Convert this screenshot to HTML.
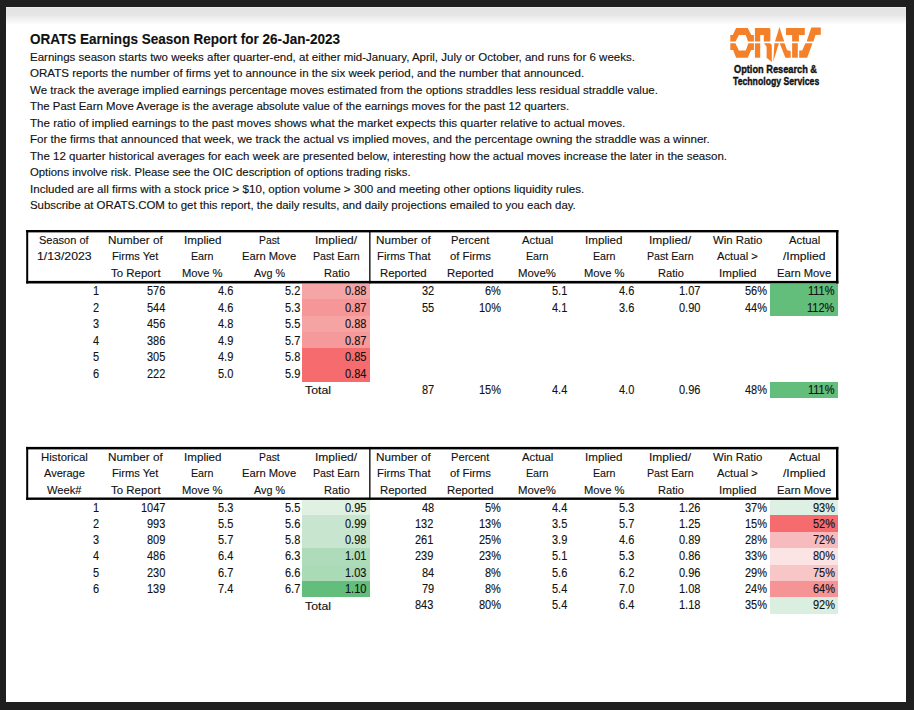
<!DOCTYPE html>
<html><head><meta charset="utf-8"><style>
html,body{margin:0;padding:0}
body{width:914px;height:710px;overflow:hidden;background:#1f1f1f;position:relative;font-family:"Liberation Sans", sans-serif}
.page{position:absolute;left:6px;top:7px;width:900px;height:695px;background:#fff}
.shade{position:absolute;left:6px;top:7px;width:900px;height:18px;background:linear-gradient(#f6f6f6,#e3e3e3 1px,#e6e6e6 8px,#f3f3f3 13px,#fff 18px)}
.t{position:absolute;white-space:pre;line-height:0;color:#111;transform-origin:0 0;-webkit-text-stroke:0.12px #111}
.f{position:absolute}
.box{position:absolute;box-sizing:border-box;border:2.6px solid #000}
.vl{position:absolute;width:1.4px;background:#000}
</style></head><body>
<div class=page></div><div class=shade></div>
<svg width="914" height="710" style="position:absolute;left:0;top:0">
<g shape-rendering="crispEdges"><rect x='302.3' y='283.8' width='67.70' height='15.00' fill='#F5A5A6'/><rect x='302.3' y='298.8' width='67.70' height='16.90' fill='#F59699'/><rect x='302.3' y='315.7' width='67.70' height='16.00' fill='#F6A3A4'/><rect x='302.3' y='331.7' width='67.70' height='16.05' fill='#F5999A'/><rect x='302.3' y='347.75' width='67.70' height='16.95' fill='#F66B6E'/><rect x='302.3' y='364.7' width='67.70' height='17.00' fill='#F66B6E'/><rect x='770.3' y='283.8' width='67.90' height='31.90' fill='#63BE7B'/><rect x='770.3' y='381.7' width='67.90' height='16.35' fill='#63BE7B'/><rect x='302.3' y='500.1' width='67.70' height='14.80' fill='#E0F1E4'/><rect x='302.3' y='514.9' width='67.70' height='16.90' fill='#C8E6CF'/><rect x='302.3' y='531.8' width='67.70' height='16.00' fill='#C8E6CF'/><rect x='302.3' y='547.8' width='67.70' height='16.90' fill='#AEDBB9'/><rect x='302.3' y='564.7' width='67.70' height='16.30' fill='#ABDAB6'/><rect x='302.3' y='581.0' width='67.70' height='16.30' fill='#63BE7B'/><rect x='770.3' y='500.1' width='67.90' height='14.80' fill='#DEF0E3'/><rect x='770.3' y='514.9' width='67.90' height='16.90' fill='#F66B6E'/><rect x='770.3' y='531.8' width='67.90' height='16.00' fill='#F8BBBD'/><rect x='770.3' y='547.8' width='67.90' height='16.90' fill='#FCE3E4'/><rect x='770.3' y='564.7' width='67.90' height='16.30' fill='#F9C6C8'/><rect x='770.3' y='581.0' width='67.90' height='16.30' fill='#F69395'/><rect x='770.3' y='597.3' width='67.90' height='16.45' fill='#DAEFE0'/></g>
<rect x='26.2' y='230.0' width='812.2' height='2.4'/><rect x='26.2' y='280.9' width='812.2' height='2.6'/><rect x='26.2' y='230.0' width='2.0' height='53.5'/><rect x='836.0' y='230.0' width='2.4' height='53.5'/><rect x='369.2' y='230.0' width='1.3' height='53.5'/><rect x='26.2' y='446.9' width='812.2' height='2.5'/><rect x='26.2' y='497.5' width='812.2' height='2.4'/><rect x='26.2' y='446.9' width='2.0' height='53.0'/><rect x='836.0' y='446.9' width='2.4' height='53.0'/><rect x='369.2' y='446.9' width='1.3' height='53.0'/>
</svg>
<svg width="110" height="45" viewBox="720 20 110 45" style="position:absolute;left:720px;top:20px">
<g fill="#F5802A">
<path d="M736.1,28.1 L747.8,28.1 L751.3,34.9 L753.9,34.9 L753.9,41.5 L748,41.5 L745.8,34.9 L738.9,34.9 L735.6,41.5 L730.3,41.5 L730.3,34.9 L732.8,34.9 Z"/>
<path d="M730.3,43.3 L735.4,43.3 L738.9,50.4 L745.8,50.4 L748.3,43.3 L753.9,43.3 L753.9,49.9 L751.1,49.9 L747.8,57.7 L736.1,57.7 L733.1,49.9 L730.3,49.9 Z"/>
<path d="M754.9,28.1 L768.9,28.1 Q770.4,28.1 770.4,29.6 L770.4,40 Q770.4,41.5 768.9,41.5 L763.8,41.5 L763.8,34.9 L760.2,34.9 L760.2,41.5 L754.9,41.5 Z"/>
<path d="M754.9,43.3 L760.2,43.3 L760.2,57.7 L754.9,57.7 Z"/>
<path d="M764,43.25 L770.1,43.25 Q771.8,44 771.8,45.9 L771.8,61.9 L766.6,57.7 L766.6,46.75 Z"/>
<path d="M779.45,26.95 L784.2,41.4 L775,41.4 Z"/>
<path d="M774.4,43.2 L778.9,43.2 L773.25,61.8 Z"/>
<path d="M779.7,43.2 L784.5,43.2 L787.1,50.3 L790.7,50.9 L790.7,57.7 L785.4,57.7 Z"/>
<path d="M786,28.1 L804.8,28.1 L804.8,34.9 L798.9,34.9 L798.9,41.4 L792.1,41.4 L792.1,34.9 L786,34.9 Z"/>
<path d="M792.1,43.2 L797.8,43.2 L797.8,57.7 L792.1,57.7 Z"/>
<path d="M811.3,27.6 L820.8,27.6 L820.8,34.8 L815.5,34.9 L813.4,41.4 L806.6,41.4 Z"/>
<path d="M805.4,43.2 L812.5,43.2 L807.2,57.7 L799.2,57.7 L799.2,50.6 L802.2,50.6 Z"/>
</g></svg>
<div class=t style='left:29.60px;top:39.08px;font-size:14.2px;font-weight:bold;transform:scaleX(0.9528)'>ORATS Earnings Season Report for 26-Jan-2023</div>
<div class=t style='left:29.80px;top:57.67px;font-size:10.2px;transform:scaleX(1.1284)'>Earnings season starts two weeks after quarter-end, at either mid-January, April, July or October, and runs for 6 weeks.</div>
<div class=t style='left:29.80px;top:74.17px;font-size:10.2px;transform:scaleX(1.1344)'>ORATS reports the number of firms yet to announce in the six week period, and the number that announced.</div>
<div class=t style='left:29.80px;top:90.67px;font-size:10.2px;transform:scaleX(1.1295)'>We track the average implied earnings percentage moves estimated from the options straddles less residual straddle value.</div>
<div class=t style='left:29.80px;top:107.17px;font-size:10.2px;transform:scaleX(1.1179)'>The Past Earn Move Average is the average absolute value of the earnings moves for the past 12 quarters.</div>
<div class=t style='left:29.80px;top:123.67px;font-size:10.2px;transform:scaleX(1.1376)'>The ratio of implied earnings to the past moves shows what the market expects this quarter relative to actual moves.</div>
<div class=t style='left:29.80px;top:140.17px;font-size:10.2px;transform:scaleX(1.1379)'>For the firms that announced that week, we track the actual vs implied moves, and the percentage owning the straddle was a winner.</div>
<div class=t style='left:29.80px;top:156.67px;font-size:10.2px;transform:scaleX(1.1302)'>The 12 quarter historical averages for each week are presented below, interesting how the actual moves increase the later in the season.</div>
<div class=t style='left:29.80px;top:173.17px;font-size:10.2px;transform:scaleX(1.1128)'>Options involve risk. Please see the OIC description of options trading risks.</div>
<div class=t style='left:29.80px;top:189.67px;font-size:10.2px;transform:scaleX(1.1393)'>Included are all firms with a stock price &gt; $10, option volume &gt; 300 and meeting other options liquidity rules.</div>
<div class=t style='left:29.80px;top:206.17px;font-size:10.2px;transform:scaleX(1.1203)'>Subscribe at ORATS.COM to get this report, the daily results, and daily projections emailed to you each day.</div>
<div class=t style='left:733.80px;top:69.08px;font-size:11.6px;font-weight:bold;-webkit-text-stroke:0.4px #111;transform:scaleX(0.7952)'>Option Research &amp;</div>
<div class=t style='left:732.70px;top:81.18px;font-size:11.6px;font-weight:bold;-webkit-text-stroke:0.4px #111;transform:scaleX(0.7488)'>Technology Services</div>
<div class=t style='left:39.20px;top:239.98px;font-size:11.3px;transform:scaleX(0.9749)'>Season of</div>
<div class=t style='left:36.65px;top:255.98px;font-size:11.3px;transform:scaleX(1.0882)'>1/13/2023</div>
<div class=t style='left:108.15px;top:239.98px;font-size:11.3px;transform:scaleX(1.0370)'>Number of</div>
<div class=t style='left:112.30px;top:255.98px;font-size:11.3px;transform:scaleX(0.9853)'>Firms Yet</div>
<div class=t style='left:110.70px;top:273.48px;font-size:11.3px;transform:scaleX(1.0126)'>To Report</div>
<div class=t style='left:183.75px;top:239.98px;font-size:11.3px;transform:scaleX(1.0296)'>Implied</div>
<div class=t style='left:191.25px;top:255.98px;font-size:11.3px;transform:scaleX(0.9424)'>Earn</div>
<div class=t style='left:182.25px;top:273.48px;font-size:11.3px;transform:scaleX(0.9923)'>Move %</div>
<div class=t style='left:259.15px;top:239.98px;font-size:11.3px;transform:scaleX(0.9155)'>Past</div>
<div class=t style='left:242.40px;top:255.98px;font-size:11.3px;transform:scaleX(0.9919)'>Earn Move</div>
<div class=t style='left:254.00px;top:273.48px;font-size:11.3px;transform:scaleX(0.9552)'>Avg %</div>
<div class=t style='left:315.45px;top:239.98px;font-size:11.3px;transform:scaleX(1.0641)'>Implied/</div>
<div class=t style='left:313.15px;top:255.98px;font-size:11.3px;transform:scaleX(0.9414)'>Past Earn</div>
<div class=t style='left:323.60px;top:273.48px;font-size:11.3px;transform:scaleX(0.9782)'>Ratio</div>
<div class=t style='left:376.15px;top:239.98px;font-size:11.3px;transform:scaleX(1.0370)'>Number of</div>
<div class=t style='left:376.70px;top:255.98px;font-size:11.3px;transform:scaleX(0.9966)'>Firms That</div>
<div class=t style='left:380.15px;top:273.48px;font-size:11.3px;transform:scaleX(1.0046)'>Reported</div>
<div class=t style='left:451.30px;top:239.98px;font-size:11.3px;transform:scaleX(0.9862)'>Percent</div>
<div class=t style='left:450.05px;top:255.98px;font-size:11.3px;transform:scaleX(1.0025)'>of Firms</div>
<div class=t style='left:447.15px;top:273.48px;font-size:11.3px;transform:scaleX(1.0046)'>Reported</div>
<div class=t style='left:521.60px;top:239.98px;font-size:11.3px;transform:scaleX(0.9966)'>Actual</div>
<div class=t style='left:526.00px;top:255.98px;font-size:11.3px;transform:scaleX(0.9424)'>Earn</div>
<div class=t style='left:518.30px;top:273.48px;font-size:11.3px;transform:scaleX(1.0061)'>Move%</div>
<div class=t style='left:585.00px;top:239.98px;font-size:11.3px;transform:scaleX(1.0296)'>Implied</div>
<div class=t style='left:592.50px;top:255.98px;font-size:11.3px;transform:scaleX(0.9424)'>Earn</div>
<div class=t style='left:583.50px;top:273.48px;font-size:11.3px;transform:scaleX(0.9923)'>Move %</div>
<div class=t style='left:649.45px;top:239.98px;font-size:11.3px;transform:scaleX(1.0641)'>Implied/</div>
<div class=t style='left:647.15px;top:255.98px;font-size:11.3px;transform:scaleX(0.9414)'>Past Earn</div>
<div class=t style='left:657.60px;top:273.48px;font-size:11.3px;transform:scaleX(0.9782)'>Ratio</div>
<div class=t style='left:712.55px;top:239.98px;font-size:11.3px;transform:scaleX(1.0088)'>Win Ratio</div>
<div class=t style='left:716.80px;top:255.98px;font-size:11.3px;transform:scaleX(0.9942)'>Actual &gt;</div>
<div class=t style='left:718.50px;top:273.48px;font-size:11.3px;transform:scaleX(1.0296)'>Implied</div>
<div class=t style='left:788.60px;top:239.98px;font-size:11.3px;transform:scaleX(0.9966)'>Actual</div>
<div class=t style='left:783.00px;top:255.98px;font-size:11.3px;transform:scaleX(1.0742)'>/Implied</div>
<div class=t style='left:777.15px;top:273.48px;font-size:11.3px;transform:scaleX(0.9919)'>Earn Move</div>
<div class=t style='left:92.67px;top:291.04px;font-size:12px;transform:scaleX(0.9167)'>1</div>
<div class=t style='left:147.44px;top:291.04px;font-size:12px;transform:scaleX(0.9167)'>576</div>
<div class=t style='left:217.50px;top:291.04px;font-size:12px;transform:scaleX(0.9167)'>4.6</div>
<div class=t style='left:284.50px;top:291.04px;font-size:12px;transform:scaleX(0.9167)'>5.2</div>
<div class=t style='left:345.39px;top:291.04px;font-size:12px;transform:scaleX(0.9167)'>0.88</div>
<div class=t style='left:421.55px;top:291.04px;font-size:12px;transform:scaleX(0.9167)'>32</div>
<div class=t style='left:484.90px;top:291.04px;font-size:12px;transform:scaleX(0.9167)'>6%</div>
<div class=t style='left:552.00px;top:291.04px;font-size:12px;transform:scaleX(0.9167)'>5.1</div>
<div class=t style='left:618.50px;top:291.04px;font-size:12px;transform:scaleX(0.9167)'>4.6</div>
<div class=t style='left:679.39px;top:291.04px;font-size:12px;transform:scaleX(0.9167)'>1.07</div>
<div class=t style='left:745.27px;top:291.04px;font-size:12px;transform:scaleX(0.9167)'>56%</div>
<div class=t style='left:808.29px;top:291.04px;font-size:12px;transform:scaleX(0.9167)'>111%</div>
<div class=t style='left:92.67px;top:307.54px;font-size:12px;transform:scaleX(0.9167)'>2</div>
<div class=t style='left:147.44px;top:307.54px;font-size:12px;transform:scaleX(0.9167)'>544</div>
<div class=t style='left:217.50px;top:307.54px;font-size:12px;transform:scaleX(0.9167)'>4.6</div>
<div class=t style='left:284.50px;top:307.54px;font-size:12px;transform:scaleX(0.9167)'>5.3</div>
<div class=t style='left:345.39px;top:307.54px;font-size:12px;transform:scaleX(0.9167)'>0.87</div>
<div class=t style='left:421.55px;top:307.54px;font-size:12px;transform:scaleX(0.9167)'>55</div>
<div class=t style='left:478.77px;top:307.54px;font-size:12px;transform:scaleX(0.9167)'>10%</div>
<div class=t style='left:552.00px;top:307.54px;font-size:12px;transform:scaleX(0.9167)'>4.1</div>
<div class=t style='left:618.50px;top:307.54px;font-size:12px;transform:scaleX(0.9167)'>3.6</div>
<div class=t style='left:679.39px;top:307.54px;font-size:12px;transform:scaleX(0.9167)'>0.90</div>
<div class=t style='left:745.27px;top:307.54px;font-size:12px;transform:scaleX(0.9167)'>44%</div>
<div class=t style='left:807.47px;top:307.54px;font-size:12px;transform:scaleX(0.9167)'>112%</div>
<div class=t style='left:92.67px;top:324.04px;font-size:12px;transform:scaleX(0.9167)'>3</div>
<div class=t style='left:147.44px;top:324.04px;font-size:12px;transform:scaleX(0.9167)'>456</div>
<div class=t style='left:217.50px;top:324.04px;font-size:12px;transform:scaleX(0.9167)'>4.8</div>
<div class=t style='left:284.50px;top:324.04px;font-size:12px;transform:scaleX(0.9167)'>5.5</div>
<div class=t style='left:345.39px;top:324.04px;font-size:12px;transform:scaleX(0.9167)'>0.88</div>
<div class=t style='left:92.67px;top:340.54px;font-size:12px;transform:scaleX(0.9167)'>4</div>
<div class=t style='left:147.44px;top:340.54px;font-size:12px;transform:scaleX(0.9167)'>386</div>
<div class=t style='left:217.50px;top:340.54px;font-size:12px;transform:scaleX(0.9167)'>4.9</div>
<div class=t style='left:284.50px;top:340.54px;font-size:12px;transform:scaleX(0.9167)'>5.7</div>
<div class=t style='left:345.39px;top:340.54px;font-size:12px;transform:scaleX(0.9167)'>0.87</div>
<div class=t style='left:92.67px;top:357.04px;font-size:12px;transform:scaleX(0.9167)'>5</div>
<div class=t style='left:147.44px;top:357.04px;font-size:12px;transform:scaleX(0.9167)'>305</div>
<div class=t style='left:217.50px;top:357.04px;font-size:12px;transform:scaleX(0.9167)'>4.9</div>
<div class=t style='left:284.50px;top:357.04px;font-size:12px;transform:scaleX(0.9167)'>5.8</div>
<div class=t style='left:345.39px;top:357.04px;font-size:12px;transform:scaleX(0.9167)'>0.85</div>
<div class=t style='left:92.67px;top:373.54px;font-size:12px;transform:scaleX(0.9167)'>6</div>
<div class=t style='left:147.44px;top:373.54px;font-size:12px;transform:scaleX(0.9167)'>222</div>
<div class=t style='left:217.50px;top:373.54px;font-size:12px;transform:scaleX(0.9167)'>5.0</div>
<div class=t style='left:284.50px;top:373.54px;font-size:12px;transform:scaleX(0.9167)'>5.9</div>
<div class=t style='left:345.39px;top:373.54px;font-size:12px;transform:scaleX(0.9167)'>0.84</div>
<div class=t style='left:305.00px;top:390.28px;font-size:11.3px;transform:scaleX(1.0890)'>Total</div>
<div class=t style='left:421.55px;top:390.04px;font-size:12px;transform:scaleX(0.9167)'>87</div>
<div class=t style='left:478.77px;top:390.04px;font-size:12px;transform:scaleX(0.9167)'>15%</div>
<div class=t style='left:552.00px;top:390.04px;font-size:12px;transform:scaleX(0.9167)'>4.4</div>
<div class=t style='left:618.50px;top:390.04px;font-size:12px;transform:scaleX(0.9167)'>4.0</div>
<div class=t style='left:679.39px;top:390.04px;font-size:12px;transform:scaleX(0.9167)'>0.96</div>
<div class=t style='left:745.27px;top:390.04px;font-size:12px;transform:scaleX(0.9167)'>48%</div>
<div class=t style='left:808.29px;top:390.04px;font-size:12px;transform:scaleX(0.9167)'>111%</div>
<div class=t style='left:40.55px;top:456.88px;font-size:11.3px;transform:scaleX(1.0096)'>Historical</div>
<div class=t style='left:43.55px;top:473.28px;font-size:11.3px;transform:scaleX(0.9767)'>Average</div>
<div class=t style='left:46.75px;top:489.68px;font-size:11.3px;transform:scaleX(0.9866)'>Week#</div>
<div class=t style='left:108.15px;top:456.88px;font-size:11.3px;transform:scaleX(1.0370)'>Number of</div>
<div class=t style='left:112.30px;top:473.28px;font-size:11.3px;transform:scaleX(0.9853)'>Firms Yet</div>
<div class=t style='left:110.70px;top:489.68px;font-size:11.3px;transform:scaleX(1.0126)'>To Report</div>
<div class=t style='left:183.75px;top:456.88px;font-size:11.3px;transform:scaleX(1.0296)'>Implied</div>
<div class=t style='left:191.25px;top:473.28px;font-size:11.3px;transform:scaleX(0.9424)'>Earn</div>
<div class=t style='left:182.25px;top:489.68px;font-size:11.3px;transform:scaleX(0.9923)'>Move %</div>
<div class=t style='left:259.15px;top:456.88px;font-size:11.3px;transform:scaleX(0.9155)'>Past</div>
<div class=t style='left:242.40px;top:473.28px;font-size:11.3px;transform:scaleX(0.9919)'>Earn Move</div>
<div class=t style='left:254.00px;top:489.68px;font-size:11.3px;transform:scaleX(0.9552)'>Avg %</div>
<div class=t style='left:315.45px;top:456.88px;font-size:11.3px;transform:scaleX(1.0641)'>Implied/</div>
<div class=t style='left:313.15px;top:473.28px;font-size:11.3px;transform:scaleX(0.9414)'>Past Earn</div>
<div class=t style='left:323.60px;top:489.68px;font-size:11.3px;transform:scaleX(0.9782)'>Ratio</div>
<div class=t style='left:376.15px;top:456.88px;font-size:11.3px;transform:scaleX(1.0370)'>Number of</div>
<div class=t style='left:376.70px;top:473.28px;font-size:11.3px;transform:scaleX(0.9966)'>Firms That</div>
<div class=t style='left:380.15px;top:489.68px;font-size:11.3px;transform:scaleX(1.0046)'>Reported</div>
<div class=t style='left:451.30px;top:456.88px;font-size:11.3px;transform:scaleX(0.9862)'>Percent</div>
<div class=t style='left:450.05px;top:473.28px;font-size:11.3px;transform:scaleX(1.0025)'>of Firms</div>
<div class=t style='left:447.15px;top:489.68px;font-size:11.3px;transform:scaleX(1.0046)'>Reported</div>
<div class=t style='left:521.60px;top:456.88px;font-size:11.3px;transform:scaleX(0.9966)'>Actual</div>
<div class=t style='left:526.00px;top:473.28px;font-size:11.3px;transform:scaleX(0.9424)'>Earn</div>
<div class=t style='left:518.30px;top:489.68px;font-size:11.3px;transform:scaleX(1.0061)'>Move%</div>
<div class=t style='left:585.00px;top:456.88px;font-size:11.3px;transform:scaleX(1.0296)'>Implied</div>
<div class=t style='left:592.50px;top:473.28px;font-size:11.3px;transform:scaleX(0.9424)'>Earn</div>
<div class=t style='left:583.50px;top:489.68px;font-size:11.3px;transform:scaleX(0.9923)'>Move %</div>
<div class=t style='left:649.45px;top:456.88px;font-size:11.3px;transform:scaleX(1.0641)'>Implied/</div>
<div class=t style='left:647.15px;top:473.28px;font-size:11.3px;transform:scaleX(0.9414)'>Past Earn</div>
<div class=t style='left:657.60px;top:489.68px;font-size:11.3px;transform:scaleX(0.9782)'>Ratio</div>
<div class=t style='left:712.55px;top:456.88px;font-size:11.3px;transform:scaleX(1.0088)'>Win Ratio</div>
<div class=t style='left:716.80px;top:473.28px;font-size:11.3px;transform:scaleX(0.9942)'>Actual &gt;</div>
<div class=t style='left:718.50px;top:489.68px;font-size:11.3px;transform:scaleX(1.0296)'>Implied</div>
<div class=t style='left:788.60px;top:456.88px;font-size:11.3px;transform:scaleX(0.9966)'>Actual</div>
<div class=t style='left:783.00px;top:473.28px;font-size:11.3px;transform:scaleX(1.0742)'>/Implied</div>
<div class=t style='left:777.15px;top:489.68px;font-size:11.3px;transform:scaleX(0.9919)'>Earn Move</div>
<div class=t style='left:92.67px;top:507.54px;font-size:12px;transform:scaleX(0.9167)'>1</div>
<div class=t style='left:141.32px;top:507.54px;font-size:12px;transform:scaleX(0.9167)'>1047</div>
<div class=t style='left:217.50px;top:507.54px;font-size:12px;transform:scaleX(0.9167)'>5.3</div>
<div class=t style='left:284.50px;top:507.54px;font-size:12px;transform:scaleX(0.9167)'>5.5</div>
<div class=t style='left:345.39px;top:507.54px;font-size:12px;transform:scaleX(0.9167)'>0.95</div>
<div class=t style='left:421.55px;top:507.54px;font-size:12px;transform:scaleX(0.9167)'>48</div>
<div class=t style='left:484.90px;top:507.54px;font-size:12px;transform:scaleX(0.9167)'>5%</div>
<div class=t style='left:552.00px;top:507.54px;font-size:12px;transform:scaleX(0.9167)'>4.4</div>
<div class=t style='left:618.50px;top:507.54px;font-size:12px;transform:scaleX(0.9167)'>5.3</div>
<div class=t style='left:679.39px;top:507.54px;font-size:12px;transform:scaleX(0.9167)'>1.26</div>
<div class=t style='left:745.27px;top:507.54px;font-size:12px;transform:scaleX(0.9167)'>37%</div>
<div class=t style='left:812.77px;top:507.54px;font-size:12px;transform:scaleX(0.9167)'>93%</div>
<div class=t style='left:92.67px;top:523.84px;font-size:12px;transform:scaleX(0.9167)'>2</div>
<div class=t style='left:147.44px;top:523.84px;font-size:12px;transform:scaleX(0.9167)'>993</div>
<div class=t style='left:217.50px;top:523.84px;font-size:12px;transform:scaleX(0.9167)'>5.5</div>
<div class=t style='left:284.50px;top:523.84px;font-size:12px;transform:scaleX(0.9167)'>5.6</div>
<div class=t style='left:345.39px;top:523.84px;font-size:12px;transform:scaleX(0.9167)'>0.99</div>
<div class=t style='left:415.44px;top:523.84px;font-size:12px;transform:scaleX(0.9167)'>132</div>
<div class=t style='left:478.77px;top:523.84px;font-size:12px;transform:scaleX(0.9167)'>13%</div>
<div class=t style='left:552.00px;top:523.84px;font-size:12px;transform:scaleX(0.9167)'>3.5</div>
<div class=t style='left:618.50px;top:523.84px;font-size:12px;transform:scaleX(0.9167)'>5.7</div>
<div class=t style='left:679.39px;top:523.84px;font-size:12px;transform:scaleX(0.9167)'>1.25</div>
<div class=t style='left:745.27px;top:523.84px;font-size:12px;transform:scaleX(0.9167)'>15%</div>
<div class=t style='left:812.77px;top:523.84px;font-size:12px;transform:scaleX(0.9167)'>52%</div>
<div class=t style='left:92.67px;top:540.14px;font-size:12px;transform:scaleX(0.9167)'>3</div>
<div class=t style='left:147.44px;top:540.14px;font-size:12px;transform:scaleX(0.9167)'>809</div>
<div class=t style='left:217.50px;top:540.14px;font-size:12px;transform:scaleX(0.9167)'>5.7</div>
<div class=t style='left:284.50px;top:540.14px;font-size:12px;transform:scaleX(0.9167)'>5.8</div>
<div class=t style='left:345.39px;top:540.14px;font-size:12px;transform:scaleX(0.9167)'>0.98</div>
<div class=t style='left:415.44px;top:540.14px;font-size:12px;transform:scaleX(0.9167)'>261</div>
<div class=t style='left:478.77px;top:540.14px;font-size:12px;transform:scaleX(0.9167)'>25%</div>
<div class=t style='left:552.00px;top:540.14px;font-size:12px;transform:scaleX(0.9167)'>3.9</div>
<div class=t style='left:618.50px;top:540.14px;font-size:12px;transform:scaleX(0.9167)'>4.6</div>
<div class=t style='left:679.39px;top:540.14px;font-size:12px;transform:scaleX(0.9167)'>0.89</div>
<div class=t style='left:745.27px;top:540.14px;font-size:12px;transform:scaleX(0.9167)'>28%</div>
<div class=t style='left:812.77px;top:540.14px;font-size:12px;transform:scaleX(0.9167)'>72%</div>
<div class=t style='left:92.67px;top:556.44px;font-size:12px;transform:scaleX(0.9167)'>4</div>
<div class=t style='left:147.44px;top:556.44px;font-size:12px;transform:scaleX(0.9167)'>486</div>
<div class=t style='left:217.50px;top:556.44px;font-size:12px;transform:scaleX(0.9167)'>6.4</div>
<div class=t style='left:284.50px;top:556.44px;font-size:12px;transform:scaleX(0.9167)'>6.3</div>
<div class=t style='left:345.39px;top:556.44px;font-size:12px;transform:scaleX(0.9167)'>1.01</div>
<div class=t style='left:415.44px;top:556.44px;font-size:12px;transform:scaleX(0.9167)'>239</div>
<div class=t style='left:478.77px;top:556.44px;font-size:12px;transform:scaleX(0.9167)'>23%</div>
<div class=t style='left:552.00px;top:556.44px;font-size:12px;transform:scaleX(0.9167)'>5.1</div>
<div class=t style='left:618.50px;top:556.44px;font-size:12px;transform:scaleX(0.9167)'>5.3</div>
<div class=t style='left:679.39px;top:556.44px;font-size:12px;transform:scaleX(0.9167)'>0.86</div>
<div class=t style='left:745.27px;top:556.44px;font-size:12px;transform:scaleX(0.9167)'>33%</div>
<div class=t style='left:812.77px;top:556.44px;font-size:12px;transform:scaleX(0.9167)'>80%</div>
<div class=t style='left:92.67px;top:572.74px;font-size:12px;transform:scaleX(0.9167)'>5</div>
<div class=t style='left:147.44px;top:572.74px;font-size:12px;transform:scaleX(0.9167)'>230</div>
<div class=t style='left:217.50px;top:572.74px;font-size:12px;transform:scaleX(0.9167)'>6.7</div>
<div class=t style='left:284.50px;top:572.74px;font-size:12px;transform:scaleX(0.9167)'>6.6</div>
<div class=t style='left:345.39px;top:572.74px;font-size:12px;transform:scaleX(0.9167)'>1.03</div>
<div class=t style='left:421.55px;top:572.74px;font-size:12px;transform:scaleX(0.9167)'>84</div>
<div class=t style='left:484.90px;top:572.74px;font-size:12px;transform:scaleX(0.9167)'>8%</div>
<div class=t style='left:552.00px;top:572.74px;font-size:12px;transform:scaleX(0.9167)'>5.6</div>
<div class=t style='left:618.50px;top:572.74px;font-size:12px;transform:scaleX(0.9167)'>6.2</div>
<div class=t style='left:679.39px;top:572.74px;font-size:12px;transform:scaleX(0.9167)'>0.96</div>
<div class=t style='left:745.27px;top:572.74px;font-size:12px;transform:scaleX(0.9167)'>29%</div>
<div class=t style='left:812.77px;top:572.74px;font-size:12px;transform:scaleX(0.9167)'>75%</div>
<div class=t style='left:92.67px;top:589.04px;font-size:12px;transform:scaleX(0.9167)'>6</div>
<div class=t style='left:147.44px;top:589.04px;font-size:12px;transform:scaleX(0.9167)'>139</div>
<div class=t style='left:217.50px;top:589.04px;font-size:12px;transform:scaleX(0.9167)'>7.4</div>
<div class=t style='left:284.50px;top:589.04px;font-size:12px;transform:scaleX(0.9167)'>6.7</div>
<div class=t style='left:345.39px;top:589.04px;font-size:12px;transform:scaleX(0.9167)'>1.10</div>
<div class=t style='left:421.55px;top:589.04px;font-size:12px;transform:scaleX(0.9167)'>79</div>
<div class=t style='left:484.90px;top:589.04px;font-size:12px;transform:scaleX(0.9167)'>8%</div>
<div class=t style='left:552.00px;top:589.04px;font-size:12px;transform:scaleX(0.9167)'>5.4</div>
<div class=t style='left:618.50px;top:589.04px;font-size:12px;transform:scaleX(0.9167)'>7.0</div>
<div class=t style='left:679.39px;top:589.04px;font-size:12px;transform:scaleX(0.9167)'>1.08</div>
<div class=t style='left:745.27px;top:589.04px;font-size:12px;transform:scaleX(0.9167)'>24%</div>
<div class=t style='left:812.77px;top:589.04px;font-size:12px;transform:scaleX(0.9167)'>64%</div>
<div class=t style='left:305.00px;top:605.58px;font-size:11.3px;transform:scaleX(1.0890)'>Total</div>
<div class=t style='left:415.44px;top:605.34px;font-size:12px;transform:scaleX(0.9167)'>843</div>
<div class=t style='left:478.77px;top:605.34px;font-size:12px;transform:scaleX(0.9167)'>80%</div>
<div class=t style='left:552.00px;top:605.34px;font-size:12px;transform:scaleX(0.9167)'>5.4</div>
<div class=t style='left:618.50px;top:605.34px;font-size:12px;transform:scaleX(0.9167)'>6.4</div>
<div class=t style='left:679.39px;top:605.34px;font-size:12px;transform:scaleX(0.9167)'>1.18</div>
<div class=t style='left:745.27px;top:605.34px;font-size:12px;transform:scaleX(0.9167)'>35%</div>
<div class=t style='left:812.77px;top:605.34px;font-size:12px;transform:scaleX(0.9167)'>92%</div>
</body></html>
